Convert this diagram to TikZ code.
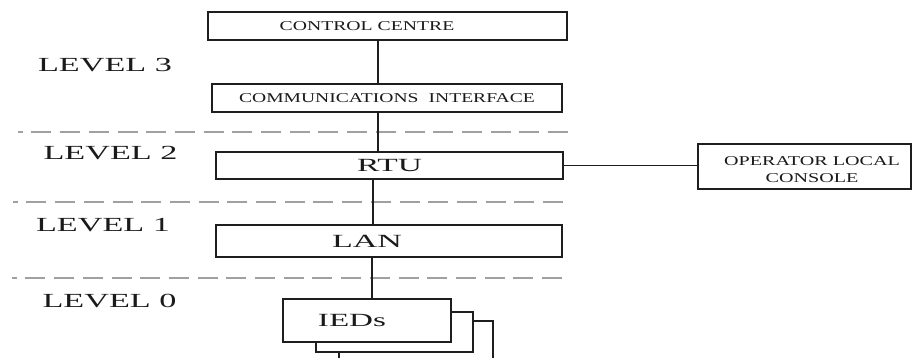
\documentclass[tikz,border=0pt]{standalone}
\usepackage{fontspec}
\setmainfont{Liberation Serif}
\usepackage{graphicx}
% horizontally widened text
\newcommand{\wide}[2]{\scalebox{#1}[1]{#2}}
% extra room on the right of a label, kept by the node
\newcommand{\padright}[1]{\kern#1\relax}
\definecolor{linecol}{HTML}{1E1E1E}
\definecolor{dashcol}{HTML}{A0A0A0}
\definecolor{inkcol}{HTML}{1A1A1A}
\begin{document}
\begin{tikzpicture}[x=1pt,y=-1pt,
  box/.style={draw=linecol, line width=1.8pt, fill=white, inner sep=0pt, text=inkcol},
  link/.style={draw=linecol, line width=1.6pt},
  sidelink/.style={draw=linecol, line width=1.3pt},
  levelsep/.style={draw=dashcol, line width=1.5pt, dash pattern=on 20pt off 8.7pt},
  lvl/.style={inner sep=0pt, text=inkcol, font=\fontsize{20}{24}\selectfont},
  smalltxt/.style={font=\fontsize{13.5}{17}\selectfont},
  bigtxt/.style={font=\fontsize{18.6}{22}\selectfont}]
\clip (0,0) rectangle (913,358);

% level separators
\draw[levelsep] (568,132) -- (18,132);
\draw[levelsep] (563,202) -- (13,202);
\draw[levelsep] (562,278) -- (12,278);

% level names
\node[lvl] (l3) at (105,65)    {\wide{1.71}{LEVEL 3}};
\node[lvl] (l2) at (110.5,153.5) {\wide{1.71}{LEVEL 2}};
\node[lvl] (l1) at (103,225)   {\wide{1.71}{LEVEL 1}};
\node[lvl] (l0) at (109.5,301.5) {\wide{1.71}{LEVEL 0}};

% blocks
\node[box, smalltxt, minimum width=359pt, minimum height=28pt] (cc) at (387.5,26)
  {\wide{1.46}{CONTROL CENTRE}\padright{41pt}};
\node[box, smalltxt, minimum width=350pt, minimum height=28pt] (ci) at (387,98)
  {\wide{1.45}{COMMUNICATIONS\hspace{7pt}INTERFACE}};
\node[box, bigtxt, minimum width=347pt, minimum height=27pt] (rtu) at (389.5,165.5)
  {\wide{1.8}{RTU}};
\node[box, minimum width=213pt, minimum height=45pt,
  label={[smalltxt, text=inkcol, align=center, xshift=7.5pt, yshift=-3pt]center:%
    \wide{1.49}{OPERATOR LOCAL}\\\wide{1.49}{CONSOLE}}] (op) at (804.5,166.5) {};
\node[box, bigtxt, minimum width=346pt, minimum height=32pt] (lan) at (389,241)
  {\wide{1.83}{LAN}\padright{44pt}};

% stacked IED boxes
\node[box, minimum width=154pt, minimum height=59pt] (ied3) at (416,350.5) {};
\node[box, minimum width=157pt, minimum height=40pt] (ied2) at (394.5,332) {};
\node[box, bigtxt, minimum width=168pt, minimum height=43pt] (ieds) at (367,320.5)
  {\wide{1.78}{IEDs}\padright{30pt}};

% connector columns
\coordinate (c1) at (378,0);
\coordinate (c2) at (373,0);
\coordinate (c3) at (372,0);

\draw[link] (cc.south -| c1) -- (ci.north -| c1);
\draw[link] (ci.south -| c1) -- (rtu.north -| c1);
\draw[link] (rtu.south -| c2) -- (lan.north -| c2);
\draw[link] (lan.south -| c3) -- (ieds.north -| c3);
\draw[sidelink] (rtu.east) -- (rtu.east -| op.west);
\end{tikzpicture}
\end{document}
